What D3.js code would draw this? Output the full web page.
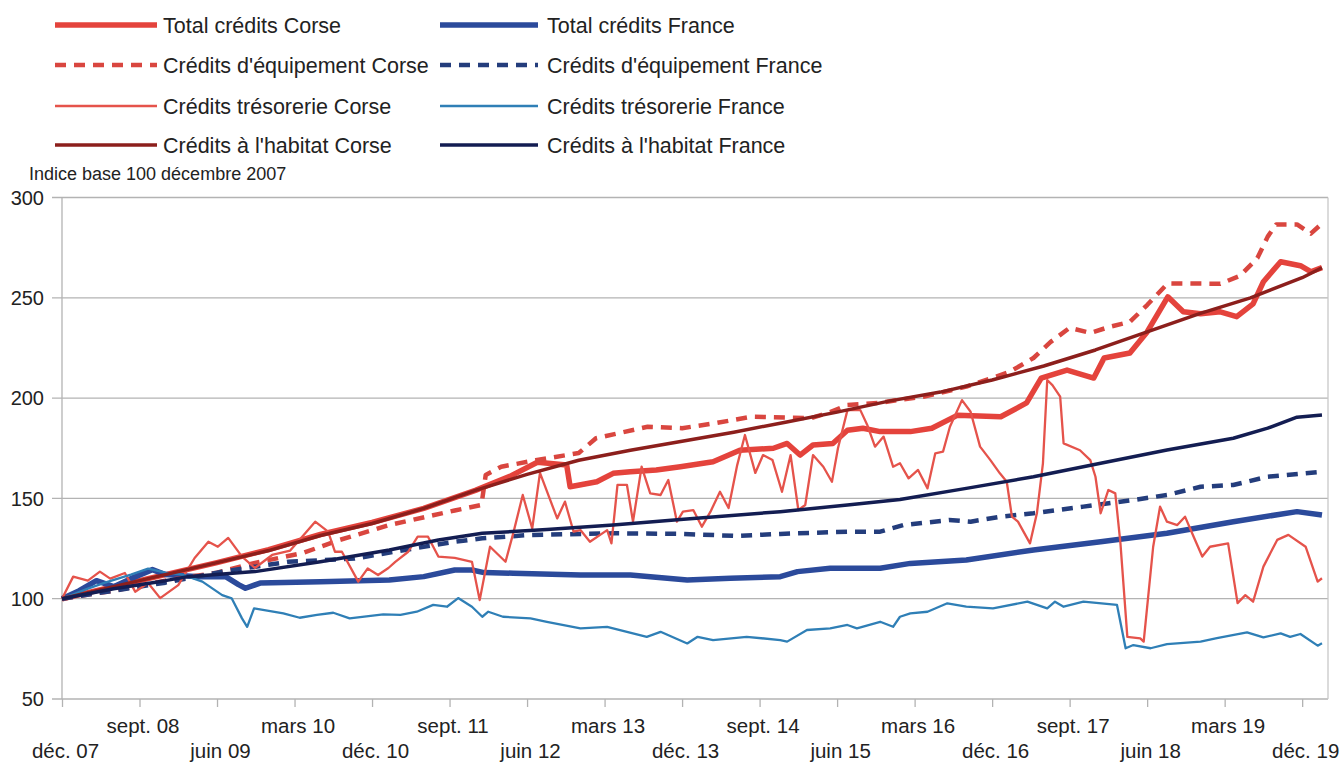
<!DOCTYPE html>
<html lang="fr">
<head>
<meta charset="UTF-8">
<title>Crédits Corse / France</title>
<script src="https://d3js.org/d3.v7.min.js"></script>
<style>
  body { margin: 0; background: #fff; }
  text { font-family: "Liberation Sans", Arial, sans-serif; fill: #222; }
</style>
</head>
<body>
<script>
// months counted from déc. 2007 (0) ; values = index base 100
var tickMonths = [0, 9, 18, 27, 36, 45, 54, 63, 72, 81, 90, 99, 108, 117, 126, 135, 144];
var tickLabels = ["déc. 07", "sept. 08", "juin 09", "mars 10", "déc. 10", "sept. 11", "juin 12", "mars 13",
                  "déc. 13", "sept. 14", "juin 15", "mars 16", "déc. 16", "sept. 17", "juin 18", "mars 19", "déc. 19"];
var yTicks = [50, 100, 150, 200, 250, 300];

var totalCorse = [[0,100],[6,106],[12,112],[18,118],[24,124.5],[30,132],[36,138],[42,145],[48,154],[52,161],[55.2,168],
  [58.6,166.6],[59,155.8],[62.1,158.3],[64,162.5],[66,163.3],[69,164.2],[71.8,165.8],[75.6,168.3],[78.7,174],[82.6,175],
  [84.2,177.4],[85.7,171.6],[87.2,176.6],[89.5,177.4],[91.2,184],[93,185],[95,183.3],[98.5,183.3],[101,185],[104,191.5],
  [109,190.7],[112,197.6],[113.7,210],[116.7,214],[119.8,210],[121,220],[124,222.5],[126,233],[128.4,250.5],[130.2,243],
  [132.2,242],[134.5,243],[136.4,240.6],[138.3,247],[139.5,258],[141.5,268],[143.8,266],[145,263],[146.3,265]];

var totalFrance = [[0,100],[2,104],[4,109],[6,106],[8,110],[10.5,114.5],[12,112],[16,111],[19,111],[20.5,107],[21.3,105.2],
  [23,107.8],[30,108.5],[38,109.3],[42,111],[45.6,114.3],[47.6,114.3],[49,113],[52.4,112.7],[60.2,111.8],[66,111.8],
  [72.6,109.3],[77.6,110.2],[83.4,111],[85.4,113.5],[89.2,115.2],[95,115.2],[98.5,117.6],[105,119.3],[112.8,124.3],
  [120.6,128.4],[128.3,132.6],[136,138.4],[143.4,143.4],[146.3,141.7]];

var equipCorse = [[0,100],[6,104],[12,109],[18,113],[22.4,117.8],[28,122.8],[32,129],[38,136.7],[45.6,144],[48.7,146.7],
  [49.2,161.7],[51,165.8],[55,169],[60,172.6],[62,180],[68,185.7],[72,185],[76,187.6],[80,190.7],[87,190],[89.2,193],
  [91.2,196.6],[95,197.6],[97,199],[100,200.7],[105,205.7],[110,213],[112.8,220],[114.8,228],[117,235],[119.4,232.5],
  [121.7,235.6],[124,238],[126,246.4],[128.4,257.2],[134.5,257],[136.8,261],[138.8,269.8],[140,280.5],[141,286.6],
  [143.4,286.6],[145,282],[146.3,287]];

var equipFrance = [[0,100],[6,104],[12,108],[18.6,113.5],[26.3,118.4],[34,120],[39.8,124.3],[45.6,128.4],[48.8,130.1],
  [54.4,131.8],[64,132.6],[71.8,132.3],[78.4,131.3],[83.4,132.3],[91.2,133.4],[95,133.4],[97.7,136.7],[103,139.2],
  [105.5,138.4],[109,140.9],[112.8,142.6],[118.6,145.9],[124.4,149.2],[128.3,151.7],[132.2,155.8],[136,156.7],
  [140,160.8],[146.3,163.3]];

var tresoCorse = [[0,100],[1.3,111],[3,109],[4.4,113.5],[5.6,110],[7.3,112.8],[8.5,103.5],[10,107.8],[11.4,100.3],
  [13.5,106.8],[15.4,120.3],[17,128.4],[18.1,125.9],[19.3,130.3],[20.9,121],[22.4,115.3],[24.4,121.8],[26.5,124],
  [29.4,138.4],[30.9,133.4],[31.7,123.4],[32.5,123.4],[34.4,108.5],[35.5,115.1],[36.7,111.8],[37.9,115.3],[38.7,118.4],
  [40.2,123.4],[41.3,130.9],[42.5,130.9],[43.7,121],[45.6,120.3],[47.6,118.4],[48.5,99.3],[49.7,125.9],[51.5,118.4],
  [52.4,132.7],[53.5,151.7],[54.6,135],[55.5,162.7],[57.5,140],[58.4,148.4],[59.4,133.4],[60.2,134.2],[61.3,128.4],
  [63.3,134.2],[63.8,127.6],[64.5,156.7],[65.6,156.7],[66.3,138.4],[67.3,165.8],[68.3,152.5],[69.5,151.7],[70.4,159.2],
  [71.4,138.4],[72.1,143.4],[73.3,144.2],[74.3,135.9],[75.3,143.4],[76.4,153.3],[77.4,145.2],[78.4,166.6],[79.3,181.6],
  [80.5,162.7],[81.4,171.6],[82.5,169.1],[83.6,153.3],[84.6,171.6],[85.5,144.2],[86.3,146.7],[87.2,171.6],[88.4,165.8],
  [89.4,158.3],[90.1,175],[91.2,194],[92.7,194],[93.5,186.6],[94.4,175.8],[95.4,180.8],[96.5,165.8],[97.3,167.5],
  [98.3,160],[99.4,164.2],[100.5,155],[101.4,172.5],[102.3,173.3],[103.1,185.7],[104.5,199],[105.5,193.2],[106.6,175.8],
  [107.8,169.1],[108.9,162.5],[109.7,158.3],[110.3,140.9],[111,138.4],[112.4,127.6],[113.2,142.6],[113.9,167.5],
  [114.4,209],[115,206.5],[115.9,200.7],[116.3,177.4],[118.2,174],[119.4,169.1],[120,160.8],[120.6,142.6],[121.5,154.2],
  [122.3,152.5],[122.9,127.6],[123.7,81],[125.2,80.2],[125.6,78.6],[126.7,125.9],[127.5,145.9],[128.3,138.4],
  [129.5,136.7],[130.4,140.9],[131.4,130.9],[132.4,121],[133.3,125.9],[135.4,127.6],[136.5,97.8],[137.4,101.8],
  [138.3,98.5],[139.5,116],[141.1,129.3],[142.4,131.8],[144.4,125.9],[145.8,108.5],[146.3,110.2]];

var tresoFrance = [[0,100],[3,105],[5,108],[8,112],[10,115],[12,113],[14,112],[16.3,108.5],[18.6,101.8],[19.7,100.2],
  [20.9,90.2],[21.5,86],[22.3,95.2],[25.7,92.7],[27.6,90.5],[29.6,91.9],[31.5,93],[33.4,90.2],[37.3,92.2],[39.3,91.9],
  [41.2,93.5],[43.1,96.9],[44.7,96],[46,100.3],[47.6,96],[48.8,91],[49.5,93.5],[51.2,91],[54.4,90.2],[56.3,88.5],
  [60.2,85.2],[63.3,86],[67.9,81],[69.5,83.5],[72.6,77.7],[73.8,81],[75.6,79.4],[79.5,81],[83.4,79.4],[84.2,78.6],
  [86.5,84.4],[89.2,85.2],[91.2,86.9],[92.3,85.2],[95,88.5],[96.5,86],[97.3,91],[98.5,92.7],[100.5,93.5],[102.8,97.7],
  [105,96],[108.1,95.2],[112.1,98.5],[114.4,95.2],[115.3,98.5],[116.3,96],[118.6,98.5],[122.5,96.9],[123.5,75.3],
  [124.4,76.9],[126.4,75.3],[128.3,77.4],[132.2,78.6],[134.1,80.3],[137.6,83.2],[139.5,80.7],[141.5,82.7],[142.6,81],
  [143.8,82.4],[145.8,76.6],[146.3,77.8]];

var habitatCorse = [[0,100],[6,106],[12,112],[18,118],[24,124],[30,131.5],[36,137.5],[42,145],[48,154],[54,162],
  [60,169],[66,174],[72,178.5],[78,183],[84,188],[90,193],[96,198.5],[102,203],[108,209],[114,216],[120,224],[126,233],
  [132,242],[138,250],[144,260],[146.3,265]];

var habitatFrance = [[0,100],[6,105],[12,109],[14.6,111],[22.4,113.5],[30,118.4],[38,124.3],[43.7,129.3],[48.8,132.6],
  [56.3,134.5],[64,136.7],[71.8,139.5],[83.4,143.4],[91.2,146.7],[97.3,149.5],[105,155],[112.8,160.8],[120.6,167.5],
  [128.3,174.1],[136,180],[140,185],[143.4,190.5],[146.3,191.6]];

var series = [
  {name: "Total crédits Corse", data: totalCorse, color: "#e4433c", width: 5.5, dash: null, col: 0, row: 0},
  {name: "Total crédits France", data: totalFrance, color: "#2b4a9b", width: 5.5, dash: null, col: 1, row: 0},
  {name: "Crédits d'équipement Corse", data: equipCorse, color: "#d9463f", width: 4.5, dash: "11,8", col: 0, row: 1},
  {name: "Crédits d'équipement France", data: equipFrance, color: "#243d7c", width: 4.5, dash: "11,8", col: 1, row: 1},
  {name: "Crédits trésorerie Corse", data: tresoCorse, color: "#e5534b", width: 2.3, dash: null, col: 0, row: 2},
  {name: "Crédits trésorerie France", data: tresoFrance, color: "#2f7fb6", width: 2.3, dash: null, col: 1, row: 2},
  {name: "Crédits à l'habitat Corse", data: habitatCorse, color: "#8c1f1c", width: 3.5, dash: null, col: 0, row: 3},
  {name: "Crédits à l'habitat France", data: habitatFrance, color: "#131d52", width: 3.5, dash: null, col: 1, row: 3}
];

var W = 1344, H = 764;
var svg = d3.select("body").append("svg").attr("width", W).attr("height", H);

var x = d3.scaleLinear().domain([0, 147]).range([62, 1328]);
var y = d3.scaleLinear().domain([50, 300]).range([699, 197.5]);

// grid
svg.append("g").selectAll("line").data(yTicks).enter().append("line")
  .attr("x1", 52).attr("x2", 1328)
  .attr("y1", function (d) { return y(d); }).attr("y2", function (d) { return y(d); })
  .attr("stroke", "#b3b3b3").attr("stroke-width", 1.3);

// frame
svg.append("line").attr("x1", 62).attr("x2", 62).attr("y1", y(300)).attr("y2", y(50))
  .attr("stroke", "#b3b3b3").attr("stroke-width", 1.3);
svg.append("line").attr("x1", 1328).attr("x2", 1328).attr("y1", y(300)).attr("y2", y(50))
  .attr("stroke", "#c8c8c8").attr("stroke-width", 1.3);

// y labels
svg.append("g").selectAll("text").data(yTicks).enter().append("text")
  .attr("x", 44).attr("y", function (d) { return y(d); }).attr("dy", "0.36em")
  .attr("text-anchor", "end").style("font-size", "20px").text(function (d) { return d; });

// x axis
var xAxis = d3.axisBottom(x).tickValues(tickMonths).tickSize(8)
  .tickFormat(function (d, i) { return tickLabels[i]; });
var gx = svg.append("g").attr("transform", "translate(0," + y(50) + ")").call(xAxis);
gx.select(".domain").remove();
gx.selectAll(".tick line").attr("stroke", "#b3b3b3").attr("stroke-width", 1.3);
gx.selectAll(".tick text")
  .attr("y", function (d, i) { return i % 2 == 0 ? 52 : 27; })
  .attr("dy", "0.36em").attr("dx", 3)
  .style("font-size", "20.5px").style("font-family", "'Liberation Sans', Arial, sans-serif").attr("fill", "#222");

svg.append("text").attr("x", 29).attr("y", 180).style("font-size", "18px").text("Indice base 100 décembre 2007");

// lines
var line = d3.line().x(function (d) { return x(d[0]); }).y(function (d) { return y(d[1]); });
svg.append("g").selectAll("path").data(series).enter().append("path")
  .attr("d", function (s) { return line(s.data); })
  .attr("fill", "none")
  .attr("stroke", function (s) { return s.color; })
  .attr("stroke-width", function (s) { return s.width; })
  .attr("stroke-dasharray", function (s) { return s.dash; })
  .attr("stroke-linejoin", "round");

// legend
var legX = [[55, 157, 163], [440, 538, 547]];
var legY = [25, 65, 106, 145];
var leg = svg.append("g").selectAll("g").data(series).enter().append("g");
leg.append("line")
  .attr("x1", function (s) { return legX[s.col][0]; })
  .attr("x2", function (s) { return legX[s.col][1]; })
  .attr("y1", function (s) { return legY[s.row]; })
  .attr("y2", function (s) { return legY[s.row]; })
  .attr("stroke", function (s) { return s.color; })
  .attr("stroke-width", function (s) { return s.width; })
  .attr("stroke-dasharray", function (s) { return s.dash; });
leg.append("text")
  .attr("x", function (s) { return legX[s.col][2]; })
  .attr("y", function (s) { return legY[s.row]; })
  .attr("dy", "0.36em").style("font-size", "21.5px")
  .text(function (s) { return s.name; });
</script>
</body>
</html>
